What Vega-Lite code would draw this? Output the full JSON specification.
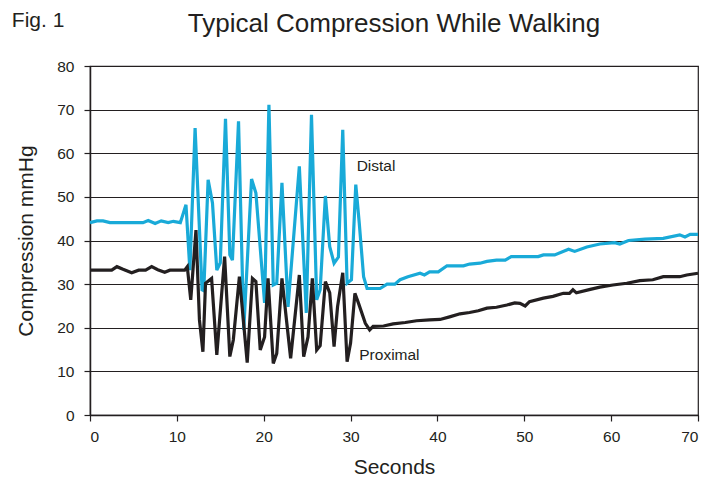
{
  "$schema": "https://vega.github.io/schema/vega-lite/v6.json",
  "width": 608,
  "height": 349,
  "autosize": "none",
  "padding": {"left": 90, "top": 66, "right": 10, "bottom": 65},
  "background": "white",
  "config": {
    "font": "Liberation Sans",
    "view": {"stroke": "#231f20", "strokeWidth": 1.2},
    "axis": {
      "labelFont": "Liberation Sans",
      "titleFont": "Liberation Sans",
      "labelFontSize": 15.5,
      "titleFontSize": 21,
      "titleFontWeight": "normal",
      "labelColor": "#231f20",
      "titleColor": "#231f20",
      "domainColor": "#231f20",
      "domainWidth": 1.5,
      "tickColor": "#231f20",
      "tickWidth": 1.2,
      "tickSize": 6
    }
  },
  "title": {
    "text": "Typical Compression While Walking",
    "fontSize": 26,
    "font": "Liberation Sans",
    "fontWeight": "normal",
    "color": "#231f20",
    "anchor": "middle",
    "offset": 10,
    "dy": 37
  },
  "datasets": {
    "series": [
      {"t": 0, "v": 44.1, "s": "Distal"},
      {"t": 0.8, "v": 44.5, "s": "Distal"},
      {"t": 1.5, "v": 44.5, "s": "Distal"},
      {"t": 2.3, "v": 44.1, "s": "Distal"},
      {"t": 6.1, "v": 44.1, "s": "Distal"},
      {"t": 6.7, "v": 44.6, "s": "Distal"},
      {"t": 7.5, "v": 43.9, "s": "Distal"},
      {"t": 8.2, "v": 44.5, "s": "Distal"},
      {"t": 9.0, "v": 44.1, "s": "Distal"},
      {"t": 9.6, "v": 44.4, "s": "Distal"},
      {"t": 10.4, "v": 44.1, "s": "Distal"},
      {"t": 11.05, "v": 48.2, "s": "Distal"},
      {"t": 11.5, "v": 33.2, "s": "Distal"},
      {"t": 12.1, "v": 65.8, "s": "Distal"},
      {"t": 12.9, "v": 28.7, "s": "Distal"},
      {"t": 13.1, "v": 28.5, "s": "Distal"},
      {"t": 13.6, "v": 53.9, "s": "Distal"},
      {"t": 14.1, "v": 48.6, "s": "Distal"},
      {"t": 14.6, "v": 33.2, "s": "Distal"},
      {"t": 15.0, "v": 34.9, "s": "Distal"},
      {"t": 15.6, "v": 67.9, "s": "Distal"},
      {"t": 16.1, "v": 36.7, "s": "Distal"},
      {"t": 16.4, "v": 35.5, "s": "Distal"},
      {"t": 17.1, "v": 67.3, "s": "Distal"},
      {"t": 17.7, "v": 19.5, "s": "Distal"},
      {"t": 18.6, "v": 54.1, "s": "Distal"},
      {"t": 19.1, "v": 50.9, "s": "Distal"},
      {"t": 20.1, "v": 25.7, "s": "Distal"},
      {"t": 20.6, "v": 71.1, "s": "Distal"},
      {"t": 21.1, "v": 29.8, "s": "Distal"},
      {"t": 21.5, "v": 30.2, "s": "Distal"},
      {"t": 22.1, "v": 53.2, "s": "Distal"},
      {"t": 22.8, "v": 24.8, "s": "Distal"},
      {"t": 24.1, "v": 57.0, "s": "Distal"},
      {"t": 24.9, "v": 23.4, "s": "Distal"},
      {"t": 25.5, "v": 68.8, "s": "Distal"},
      {"t": 26.1, "v": 26.4, "s": "Distal"},
      {"t": 26.5, "v": 28.7, "s": "Distal"},
      {"t": 27.1, "v": 50.2, "s": "Distal"},
      {"t": 27.6, "v": 38.6, "s": "Distal"},
      {"t": 28.1, "v": 34.8, "s": "Distal"},
      {"t": 28.6, "v": 36.2, "s": "Distal"},
      {"t": 29.1, "v": 65.4, "s": "Distal"},
      {"t": 29.6, "v": 30.2, "s": "Distal"},
      {"t": 30.1, "v": 31.0, "s": "Distal"},
      {"t": 30.6, "v": 52.8, "s": "Distal"},
      {"t": 31.0, "v": 44.0, "s": "Distal"},
      {"t": 31.5, "v": 31.7, "s": "Distal"},
      {"t": 31.9, "v": 29.0, "s": "Distal"},
      {"t": 33.4, "v": 29.0, "s": "Distal"},
      {"t": 34.2, "v": 30.0, "s": "Distal"},
      {"t": 35.1, "v": 30.0, "s": "Distal"},
      {"t": 35.7, "v": 31.0, "s": "Distal"},
      {"t": 36.6, "v": 31.7, "s": "Distal"},
      {"t": 38.0, "v": 32.5, "s": "Distal"},
      {"t": 38.5, "v": 32.1, "s": "Distal"},
      {"t": 39.1, "v": 32.8, "s": "Distal"},
      {"t": 40.1, "v": 32.8, "s": "Distal"},
      {"t": 41.1, "v": 34.2, "s": "Distal"},
      {"t": 43.0, "v": 34.2, "s": "Distal"},
      {"t": 43.7, "v": 34.6, "s": "Distal"},
      {"t": 44.9, "v": 34.8, "s": "Distal"},
      {"t": 45.7, "v": 35.2, "s": "Distal"},
      {"t": 46.8, "v": 35.5, "s": "Distal"},
      {"t": 47.8, "v": 35.5, "s": "Distal"},
      {"t": 48.5, "v": 36.3, "s": "Distal"},
      {"t": 51.6, "v": 36.3, "s": "Distal"},
      {"t": 52.2, "v": 36.7, "s": "Distal"},
      {"t": 53.5, "v": 36.7, "s": "Distal"},
      {"t": 55.1, "v": 38.0, "s": "Distal"},
      {"t": 55.8, "v": 37.5, "s": "Distal"},
      {"t": 57.2, "v": 38.5, "s": "Distal"},
      {"t": 58.7, "v": 39.2, "s": "Distal"},
      {"t": 60.4, "v": 39.5, "s": "Distal"},
      {"t": 61.0, "v": 39.2, "s": "Distal"},
      {"t": 62.0, "v": 40.0, "s": "Distal"},
      {"t": 63.9, "v": 40.3, "s": "Distal"},
      {"t": 66.0, "v": 40.5, "s": "Distal"},
      {"t": 67.9, "v": 41.3, "s": "Distal"},
      {"t": 68.5, "v": 40.8, "s": "Distal"},
      {"t": 69.1, "v": 41.4, "s": "Distal"},
      {"t": 70, "v": 41.4, "s": "Distal"},
      {"t": 0, "v": 33.2, "s": "Proximal"},
      {"t": 2.5, "v": 33.2, "s": "Proximal"},
      {"t": 3.1, "v": 34.0, "s": "Proximal"},
      {"t": 3.8, "v": 33.4, "s": "Proximal"},
      {"t": 4.8, "v": 32.6, "s": "Proximal"},
      {"t": 5.6, "v": 33.2, "s": "Proximal"},
      {"t": 6.4, "v": 33.2, "s": "Proximal"},
      {"t": 7.1, "v": 34.0, "s": "Proximal"},
      {"t": 7.8, "v": 33.3, "s": "Proximal"},
      {"t": 8.6, "v": 32.7, "s": "Proximal"},
      {"t": 9.2, "v": 33.2, "s": "Proximal"},
      {"t": 10.9, "v": 33.2, "s": "Proximal"},
      {"t": 11.2, "v": 34.0, "s": "Proximal"},
      {"t": 11.6, "v": 26.4, "s": "Proximal"},
      {"t": 12.2, "v": 42.4, "s": "Proximal"},
      {"t": 12.6, "v": 21.8, "s": "Proximal"},
      {"t": 13.0, "v": 14.5, "s": "Proximal"},
      {"t": 13.3, "v": 30.2, "s": "Proximal"},
      {"t": 14.0, "v": 31.3, "s": "Proximal"},
      {"t": 14.6, "v": 13.8, "s": "Proximal"},
      {"t": 15.5, "v": 36.3, "s": "Proximal"},
      {"t": 16.1, "v": 13.4, "s": "Proximal"},
      {"t": 16.5, "v": 17.2, "s": "Proximal"},
      {"t": 17.2, "v": 31.7, "s": "Proximal"},
      {"t": 18.1, "v": 12.0, "s": "Proximal"},
      {"t": 18.7, "v": 31.3, "s": "Proximal"},
      {"t": 19.1, "v": 30.6, "s": "Proximal"},
      {"t": 19.6, "v": 14.9, "s": "Proximal"},
      {"t": 20.1, "v": 17.9, "s": "Proximal"},
      {"t": 20.5, "v": 31.3, "s": "Proximal"},
      {"t": 21.1, "v": 11.8, "s": "Proximal"},
      {"t": 21.5, "v": 14.1, "s": "Proximal"},
      {"t": 22.1, "v": 31.3, "s": "Proximal"},
      {"t": 23.1, "v": 13.0, "s": "Proximal"},
      {"t": 24.1, "v": 32.1, "s": "Proximal"},
      {"t": 24.6, "v": 13.4, "s": "Proximal"},
      {"t": 25.1, "v": 17.9, "s": "Proximal"},
      {"t": 25.6, "v": 31.3, "s": "Proximal"},
      {"t": 26.1, "v": 14.9, "s": "Proximal"},
      {"t": 26.5, "v": 15.9, "s": "Proximal"},
      {"t": 27.1, "v": 30.6, "s": "Proximal"},
      {"t": 27.6, "v": 28.0, "s": "Proximal"},
      {"t": 28.1, "v": 15.7, "s": "Proximal"},
      {"t": 28.5, "v": 24.8, "s": "Proximal"},
      {"t": 29.1, "v": 32.6, "s": "Proximal"},
      {"t": 29.6, "v": 12.2, "s": "Proximal"},
      {"t": 30.0, "v": 16.5, "s": "Proximal"},
      {"t": 30.5, "v": 27.9, "s": "Proximal"},
      {"t": 30.9, "v": 25.7, "s": "Proximal"},
      {"t": 31.7, "v": 21.0, "s": "Proximal"},
      {"t": 32.2, "v": 19.5, "s": "Proximal"},
      {"t": 32.6, "v": 20.3, "s": "Proximal"},
      {"t": 33.8, "v": 20.4, "s": "Proximal"},
      {"t": 34.9, "v": 20.9, "s": "Proximal"},
      {"t": 36.3, "v": 21.2, "s": "Proximal"},
      {"t": 37.6, "v": 21.6, "s": "Proximal"},
      {"t": 39.1, "v": 21.8, "s": "Proximal"},
      {"t": 40.3, "v": 21.9, "s": "Proximal"},
      {"t": 41.4, "v": 22.5, "s": "Proximal"},
      {"t": 42.6, "v": 23.2, "s": "Proximal"},
      {"t": 43.7, "v": 23.5, "s": "Proximal"},
      {"t": 44.7, "v": 23.9, "s": "Proximal"},
      {"t": 45.7, "v": 24.5, "s": "Proximal"},
      {"t": 46.8, "v": 24.7, "s": "Proximal"},
      {"t": 48.0, "v": 25.2, "s": "Proximal"},
      {"t": 48.9, "v": 25.7, "s": "Proximal"},
      {"t": 49.5, "v": 25.6, "s": "Proximal"},
      {"t": 50.1, "v": 25.0, "s": "Proximal"},
      {"t": 50.6, "v": 26.0, "s": "Proximal"},
      {"t": 52.2, "v": 26.8, "s": "Proximal"},
      {"t": 53.3, "v": 27.2, "s": "Proximal"},
      {"t": 54.5, "v": 27.9, "s": "Proximal"},
      {"t": 55.2, "v": 27.9, "s": "Proximal"},
      {"t": 55.6, "v": 28.7, "s": "Proximal"},
      {"t": 56.0, "v": 28.0, "s": "Proximal"},
      {"t": 57.6, "v": 28.8, "s": "Proximal"},
      {"t": 58.7, "v": 29.3, "s": "Proximal"},
      {"t": 60.2, "v": 29.8, "s": "Proximal"},
      {"t": 61.8, "v": 30.2, "s": "Proximal"},
      {"t": 63.3, "v": 30.8, "s": "Proximal"},
      {"t": 64.8, "v": 31.0, "s": "Proximal"},
      {"t": 66.0, "v": 31.7, "s": "Proximal"},
      {"t": 67.9, "v": 31.7, "s": "Proximal"},
      {"t": 68.7, "v": 32.1, "s": "Proximal"},
      {"t": 70, "v": 32.5, "s": "Proximal"}
    ],
    "labels": [
      {"t": 30.7, "v": 57.1, "label": "Distal"},
      {"t": 31.0, "v": 13.8, "label": "Proximal"}
    ],
    "fig": [
      {"t": -9.0, "v": 90.4, "label": "Fig. 1"}
    ]
  },
  "layer": [
    {
      "data": {"name": "series"},
      "mark": {"type": "line", "strokeWidth": 3.2, "strokeJoin": "miter", "strokeMiterLimit": 3},
      "encoding": {
        "x": {
          "field": "t", "type": "quantitative",
          "scale": {"domain": [0, 70], "nice": false},
          "axis": {"values": [0, 10, 20, 30, 40, 50, 60, 70], "grid": false, "title": "Seconds", "titlePadding": 12, "labelPadding": 8}
        },
        "y": {
          "field": "v", "type": "quantitative",
          "scale": {"domain": [0, 80], "nice": false},
          "axis": {"values": [0, 10, 20, 30, 40, 50, 60, 70, 80], "grid": true, "gridColor": "#231f20", "gridWidth": 1.2, "gridOpacity": 1, "title": "Compression mmHg", "titlePadding": 20, "labelPadding": 10}
        },
        "color": {
          "field": "s", "type": "nominal",
          "scale": {"domain": ["Distal", "Proximal"], "range": ["#19aad8", "#231f20"]},
          "legend": null
        },
        "order": {"field": "t", "type": "quantitative"}
      }
    },
    {
      "data": {"name": "labels"},
      "mark": {"type": "text", "align": "left", "baseline": "middle", "fontSize": 15.5, "color": "#231f20", "font": "Liberation Sans"},
      "encoding": {
        "x": {"field": "t", "type": "quantitative"},
        "y": {"field": "v", "type": "quantitative"},
        "text": {"field": "label"}
      }
    },
    {
      "data": {"name": "fig"},
      "mark": {"type": "text", "align": "left", "baseline": "middle", "fontSize": 21, "color": "#231f20", "font": "Liberation Sans", "clip": false},
      "encoding": {
        "x": {"field": "t", "type": "quantitative"},
        "y": {"field": "v", "type": "quantitative"},
        "text": {"field": "label"}
      }
    }
  ]
}
